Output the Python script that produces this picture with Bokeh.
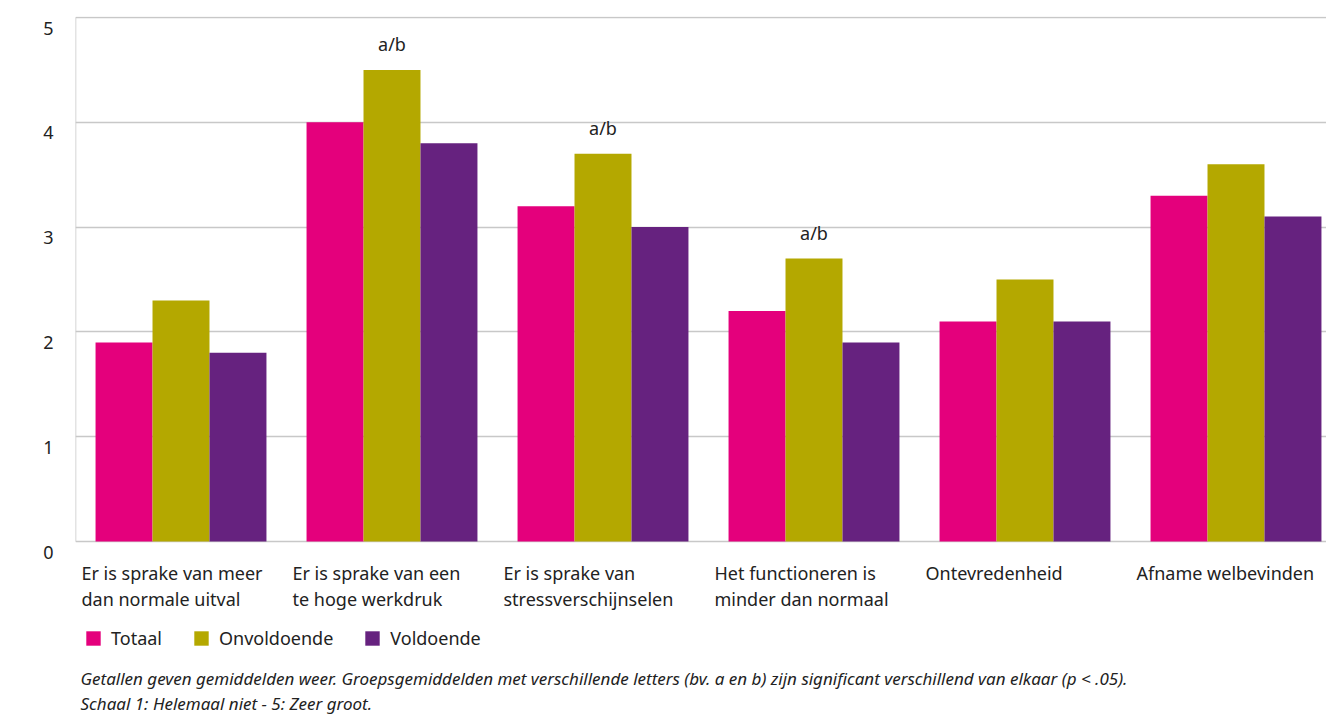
from bokeh.plotting import figure
from bokeh.models import (Range1d, ColumnDataSource, Label, Legend, LegendItem,
                          FixedTicker, LinearAxis)
from bokeh.core.properties import value
from bokeh.embed import file_html
from bokeh.resources import INLINE

categories = [
    ["Er is sprake van meer", "dan normale uitval"],
    ["Er is sprake van een", "te hoge werkdruk"],
    ["Er is sprake van", "stressverschijnselen"],
    ["Het functioneren is", "minder dan normaal"],
    ["Ontevredenheid"],
    ["Afname welbevinden"],
]
series_names = ["Totaal", "Onvoldoende", "Voldoende"]
totaal = [1.9, 4.0, 3.2, 2.2, 2.1, 3.3]
onvoldoende = [2.3, 4.5, 3.7, 2.7, 2.5, 3.6]
voldoende = [1.8, 3.8, 3.0, 1.9, 2.1, 3.1]
significance = ["", "a/b", "a/b", "a/b", "", ""]
y_ticks = [0, 1, 2, 3, 4, 5]
footnotes = [
    "Getallen geven gemiddelden weer. Groepsgemiddelden met verschillende letters (bv. a en b) zijn significant verschillend van elkaar (p < .05).",
    "Schaal 1: Helemaal niet - 5: Zeer groot.",
]

colors = ["#E4007C", "#B4A800", "#66227F"]
FONT = "Noto Sans"
TXT = "#222222"
GRID = "#c8c8c8"

W, H = 1326, 715
LEFT, TOP = 75, 16
PPU = 524 / 5.0          # pixels per y unit
Y0 = 541                 # pixel row of y = 0
XPU = 211.0              # pixels per category
LABEL_DROP = 10.5        # tick labels sit a little below their grid line

n = len(categories)
centers = [i + 0.5 for i in range(n)]
bw = 0.27
offsets = [-bw, 0.0, bw]

y_start = -(H - Y0) / PPU
y_end = (Y0 - TOP) / PPU
p = figure(width=W, height=H, output_backend="svg", toolbar_location=None,
           x_range=Range1d(0, (W - LEFT) / XPU),
           y_range=Range1d(y_start, y_end),
           min_border_left=LEFT, min_border_right=0, min_border_top=TOP,
           min_border_bottom=0)
p.outline_line_color = None
p.background_fill_color = "white"

# y axis line (only over the value range)
p.segment(x0=[0], y0=[min(y_ticks)], x1=[0], y1=[max(y_ticks)],
          line_color=GRID, line_width=1.5)

renderers = []
for vals, off, col in zip([totaal, onvoldoende, voldoende], offsets, colors):
    src = ColumnDataSource(dict(x=[c + off for c in centers], top=vals))
    r = p.vbar(x="x", top="top", width=bw, bottom=0, source=src,
               fill_color=col, line_color=None)
    renderers.append(r)

# significance labels
sig_src = ColumnDataSource(dict(x=[c + offsets[1] for c in centers], y=onvoldoende,
                                t=significance))
p.text(x="x", y="y", text="t", source=sig_src, text_align="center",
       text_baseline="bottom", y_offset=-14, text_font=value(FONT),
       text_font_size="18px", text_color=TXT)

p.xaxis.visible = False
p.xgrid.visible = False
p.ygrid.grid_line_color = GRID
p.ygrid.grid_line_width = 1.5
p.yaxis.ticker = FixedTicker(ticks=y_ticks)
p.yaxis.visible = False

# label axis on a range shifted so labels sit slightly below the grid lines
d = LABEL_DROP / PPU
p.extra_y_ranges = {"lab": Range1d(y_start + d, y_end + d)}
lab_axis = LinearAxis(y_range_name="lab", ticker=FixedTicker(ticks=y_ticks))
lab_axis.axis_line_color = None
lab_axis.major_tick_line_color = None
lab_axis.minor_tick_line_color = None
lab_axis.major_label_standoff = 16
lab_axis.major_label_text_font = FONT
lab_axis.major_label_text_font_size = "18px"
lab_axis.major_label_text_color = TXT
p.add_layout(lab_axis, "left")

# category labels (left aligned under each group)
for i, lines in enumerate(categories):
    for j, line in enumerate(lines):
        p.add_layout(Label(x=i + 6 / XPU, y=-(572 - Y0) / PPU - j * 26 / PPU,
                           text=line, text_font=FONT, text_font_size="18px",
                           text_color=TXT, text_baseline="middle",
                           text_align="left"))

legend = Legend(items=[LegendItem(label=nm, renderers=[r])
                       for nm, r in zip(series_names, renderers)],
                orientation="horizontal", location=(9, H - 650),
                glyph_width=18, glyph_height=18, label_height=18,
                label_standoff=9, spacing=30, padding=0, margin=0,
                border_line_color=None, background_fill_alpha=0,
                label_text_font=FONT, label_text_font_size="18px",
                label_text_color=TXT)
p.add_layout(legend, "center")

for k, fn in enumerate(footnotes):
    p.add_layout(Label(x=5 / XPU, y=-(678 - Y0) / PPU - k * 25 / PPU,
                       text=fn, text_font=FONT, text_font_size="17px",
                       text_font_style="italic", text_color=TXT,
                       text_baseline="middle", text_align="left"))

open("out.html", "w").write(file_html(p, INLINE))
